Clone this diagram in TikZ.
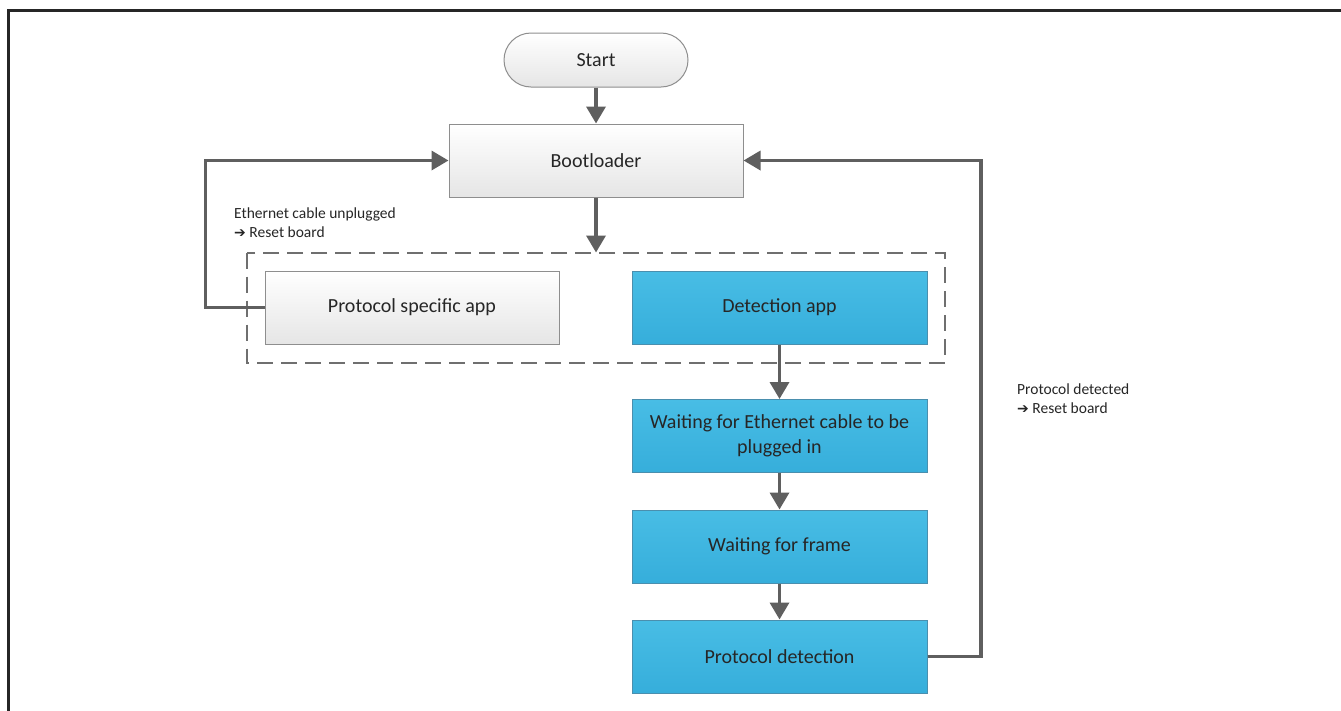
\documentclass[tikz,border=0pt]{standalone}
\usepackage{fontspec}
\setmainfont{Carlito}
\newfontfamily\dejavu{DejaVu Sans}
\usetikzlibrary{arrows.meta,calc}
\definecolor{linegray}{HTML}{5F5F5F}
\definecolor{boxedge}{HTML}{8E8E8E}
\definecolor{bluetop}{HTML}{48BDE5}
\definecolor{bluebot}{HTML}{36AEDB}
\definecolor{blueedge}{HTML}{4A8FAE}
\definecolor{txt}{HTML}{262626}
\tikzset{
  graybox/.style={draw=boxedge, line width=1pt, top color=white, bottom color=black!10, minimum width=294pt, minimum height=73pt, text=txt, font=\fontsize{20}{25}\selectfont, align=center},
  bluebox/.style={draw=blueedge, line width=1pt, top color=bluetop, bottom color=bluebot, minimum width=295pt, minimum height=73pt, text=txt, font=\fontsize{20}{25}\selectfont, align=center},
  startbox/.style={draw=boxedge, line width=1pt, top color=white, bottom color=black!10, rounded corners=27pt, minimum width=184pt, minimum height=54pt, text=txt, font=\fontsize{20}{25}\selectfont},
  conn/.style={draw=linegray, line width=3.5pt, -{Triangle[length=17pt,width=19pt]}},
  note/.style={text=txt, font=\fontsize{15.5}{19}\selectfont, align=left, anchor=north west, inner sep=0pt},
  dashbox/.style={draw=linegray!90, line width=2pt, dash pattern=on 16pt off 8pt},
  arr/.style={}
}
\newcommand{\rarr}{{\dejavu\bfseries\fontsize{14}{19}\selectfont ➔}}
\begin{document}
\begin{tikzpicture}[x=1pt,y=-1pt]
\useasboundingbox (0,0) rectangle (1341,710);
\fill[white] (0,0) rectangle (1341,710);
% frame
\draw[line width=3pt, draw=black!85] (8.5,712) -- (8.5,10.5) -- (1345,10.5);
% nodes
\node[startbox] (start) at (596,60) {Start};
\node[graybox] (boot) at (596,160.5) {Bootloader};
\node[graybox] (psa) at (412,307.5) {Protocol specific app};
\node[bluebox] (det) at (779.5,307.5) {Detection app};
\node[bluebox] (wait) at (779.5,436) {Waiting for Ethernet cable to be\\plugged in};
\node[bluebox] (frame) at (779.5,546.5) {Waiting for frame};
\node[bluebox] (pdet) at (779.5,656.5) {Protocol detection};
% dashed group
\coordinate (dtl) at (247,252.5);
\coordinate (dbr) at (945,362.5);
\draw[dashbox] (dtl) rectangle (dbr);
\coordinate (dtop) at (596,252.5);
% connectors
\draw[conn] (start) -- (boot);
\draw[conn] (boot) -- (dtop);
\draw[conn] (det) -- (wait);
\draw[conn] (wait) -- (frame);
\draw[conn] (frame) -- (pdet);
\coordinate (lx) at (205.5,0);
\coordinate (rx) at (981,0);
\draw[conn] (psa.west) -- (psa.west -| lx) -- (boot.west -| lx) -- (boot.west);
\draw[conn] (pdet.east) -- (pdet.east -| rx) -- (boot.east -| rx) -- (boot.east);
% notes
\node[note] (n1) at (234,207.5) {Ethernet cable unplugged\\\rarr\ Reset board};
\node[note] (n2) at (1017,383.5) {Protocol detected\\\rarr\ Reset board};
\end{tikzpicture}
\end{document}
